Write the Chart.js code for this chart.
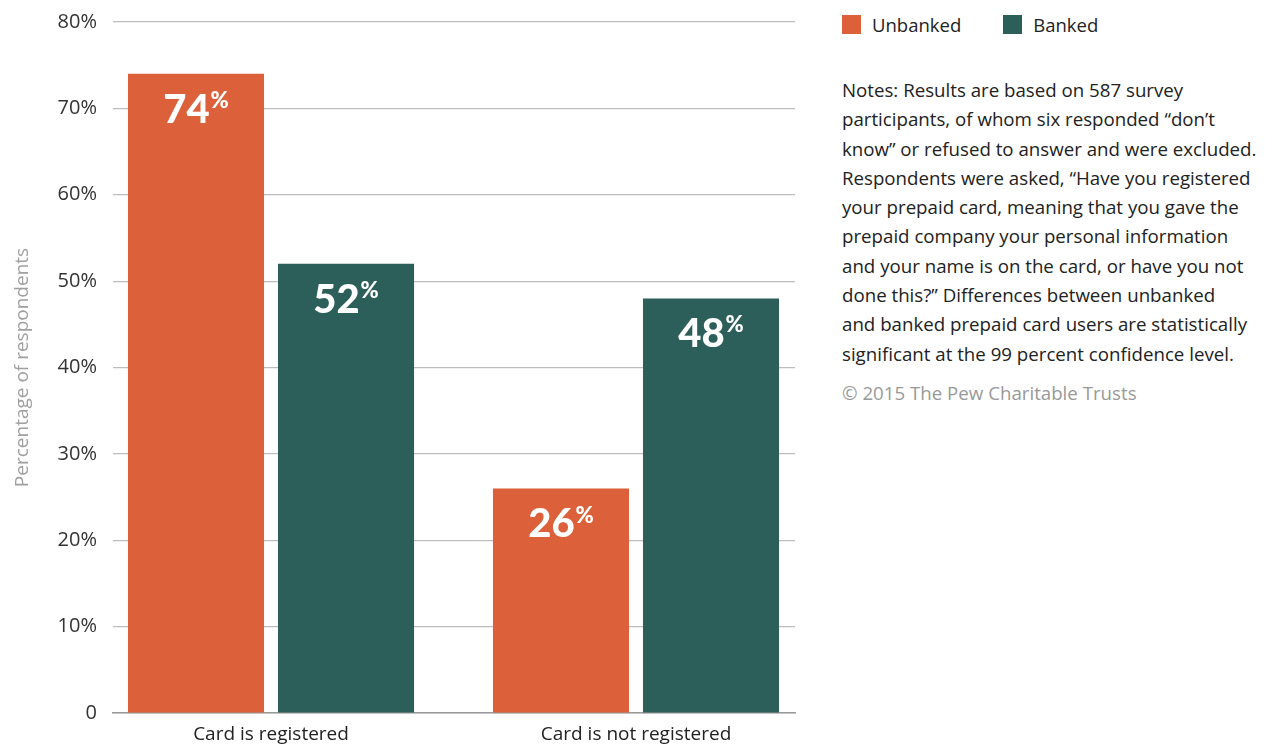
<!DOCTYPE html>
<html>
<head>
<meta charset="utf-8">
<script src="https://cdn.jsdelivr.net/npm/chart.js@4.4.1/dist/chart.umd.min.js"></script>
<style>
  body{margin:0;background:#fff;font-family:"Open Sans",Lato,sans-serif;}
  #wrap{position:relative;width:1265px;height:746px;}
  #chart{position:absolute;left:0;top:0;}
  .legend{position:absolute;left:842px;top:12px;font-size:18.5px;color:#222;display:flex;}
  .legend span{display:flex;align-items:center;margin-right:42px;}
  .legend i{display:inline-block;width:19px;height:19px;margin-right:11px;}
  .notes{position:absolute;left:842px;top:75px;font-size:18.7px;line-height:29.3px;color:#222;white-space:nowrap;}
  .copy{color:#999;margin-top:10px;}
</style>
</head>
<body>
<div id="wrap">
  <canvas id="chart" width="800" height="746"></canvas>
  <div class="legend">
    <span><i style="background:#dc613a"></i>Unbanked</span>
    <span><i style="background:#2d5f5a"></i>Banked</span>
  </div>
  <div class="notes">
    Notes: Results are based on 587 survey<br>
    participants, of whom six responded “don’t<br>
    know” or refused to answer and were excluded.<br>
    Respondents were asked, “Have you registered<br>
    your prepaid card, meaning that you gave the<br>
    prepaid company your personal information<br>
    and your name is on the card, or have you not<br>
    done this?” Differences between unbanked<br>
    and banked prepaid card users are statistically<br>
    significant at the 99 percent confidence level.
    <div class="copy">© 2015 The Pew Charitable Trusts</div>
  </div>
</div>
<script>
const categories = ['Card is registered', 'Card is not registered'];
const unbanked = [74, 26];
const banked = [52, 48];
const yTicks = [0, 10, 20, 30, 40, 50, 60, 70, 80];

const ORANGE = '#dc613a', GREEN = '#2d5f5a';

// white value labels near the top of each bar, with a small raised "%"
const valueLabels = {
  id: 'valueLabels',
  afterDatasetsDraw(chart){
    const ctx = chart.ctx;
    chart.data.datasets.forEach((ds, di) => {
      chart.getDatasetMeta(di).data.forEach((bar, i) => {
        const num = String(ds.data[i].y);
        ctx.save();
        ctx.fillStyle = '#fff';
        ctx.textBaseline = 'middle';
        ctx.font = '900 40px Lato, sans-serif';
        const wNum = ctx.measureText(num).width;
        ctx.font = '900 22px Lato, sans-serif';
        const wPct = ctx.measureText('%').width;
        const x0 = bar.x - (wNum + wPct + 1) / 2;
        const y = bar.y + 36;
        ctx.font = '900 40px Lato, sans-serif';
        ctx.textAlign = 'left';
        ctx.fillText(num, x0, y);
        ctx.font = '900 22px Lato, sans-serif';
        ctx.fillText('%', x0 + wNum + 1, y - 9);
        ctx.restore();
      });
    });
  }
};

new Chart(document.getElementById('chart'), {
  type: 'bar',
  data: {
    datasets: [
      { label: 'Unbanked', data: unbanked.map((v, i) => ({x: i, y: v})), backgroundColor: ORANGE },
      { label: 'Banked', data: banked.map((v, i) => ({x: i, y: v})), backgroundColor: GREEN }
    ]
  },
  options: {
    responsive: false,
    animation: false,
    categoryPercentage: 0.822,
    barPercentage: 0.907,
    layout: { padding: { top: 22, right: 5, left: 0, bottom: 0 } },
    plugins: { legend: { display: false }, tooltip: { enabled: false } },
    scales: {
      x: {
        type: 'linear',
        offset: false,
        min: -0.4329,
        max: 1.4356,
        afterBuildTicks: s => { s.ticks = categories.map((c, i) => ({ value: i })); },
        afterFit: s => { s.height = 33; s.paddingLeft = 0; s.paddingRight = 0; },
        grid: { display: false, drawTicks: false },
        border: { display: true, color: '#999', width: 1.5 },
        ticks: {
          padding: 10,
          color: '#222',
          font: { family: 'Open Sans', size: 19 },
          callback: v => categories[v] ?? ''
        }
      },
      y: {
        min: 0,
        max: 80,
        afterBuildTicks: s => { s.ticks = yTicks.map(v => ({ value: v })); },
        afterFit: s => { s.width = 113; s.paddingTop = 0; s.paddingBottom = 0; },
        grid: { color: '#bdbdbd', lineWidth: 1.2, drawTicks: false },
        border: { display: false },
        ticks: {
          padding: 16,
          color: '#333',
          font: { family: 'Open Sans', size: 20 },
          callback: v => v === 0 ? '0' : v + '%'
        },
        title: {
          display: true,
          text: 'Percentage of respondents',
          color: '#a0a0a0',
          font: { family: 'Open Sans', size: 19 },
          padding: { top: 11, bottom: 0 }
        }
      }
    }
  },
  plugins: [valueLabels]
});
</script>
</body>
</html>
